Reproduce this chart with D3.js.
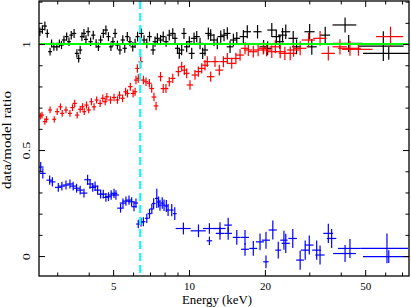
<!DOCTYPE html>
<html>
<head>
<meta charset="utf-8">
<script src="https://cdn.jsdelivr.net/npm/d3@7"></script>
<style>
  body { margin: 0; background: #fff; }
  svg { display: block; }
  svg text { font-family: "Liberation Serif", "Times New Roman", Times, serif; }
</style>
</head>
<body>
<svg id="chart" width="411" height="307"></svg>
<script>
// Axis ticks
const energyTicks = [5, 10, 20, 50];
const energyMinor = [3, 4, 6, 7, 8, 9, 30, 40, 60, 70];
const ratioTicks = [0, 0.5, 1];
const ratioMinor = [0.1, 0.2, 0.3, 0.4, 0.6, 0.7, 0.8, 0.9, 1.1, 1.2];
const lineEnergy = 6.4;
const modelRatio = 1;

// [energy keV, half bin width keV, ratio, ratio error]
const blackData = [
  [2.56, 0.05, 1.058, 0.02], [2.62, 0.05, 1.069, 0.02], [2.68, 0.05, 1.085, 0.021],
  [2.74, 0.05, 1.05, 0.02], [2.81, 0.05, 0.964, 0.018], [2.85, 0.05, 1.003, 0.019],
  [2.91, 0.05, 0.987, 0.019], [2.99, 0.06, 0.987, 0.019], [3.06, 0.06, 1.003, 0.019],
  [3.12, 0.06, 0.995, 0.019], [3.19, 0.06, 1.019, 0.02], [3.27, 0.06, 1.035, 0.02],
  [3.34, 0.06, 1.011, 0.02], [3.41, 0.06, 1.042, 0.02], [3.5, 0.07, 1.05, 0.021],
  [3.59, 0.07, 0.956, 0.019], [3.65, 0.07, 0.932, 0.019], [3.7, 0.07, 0.972, 0.02],
  [3.76, 0.07, 1.035, 0.021], [3.83, 0.07, 1.05, 0.021], [3.9, 0.07, 1.022, 0.02],
  [3.98, 0.08, 1.058, 0.021], [4.07, 0.08, 1.011, 0.02], [4.17, 0.08, 1.042, 0.021],
  [4.28, 0.08, 1.003, 0.02], [4.37, 0.08, 0.987, 0.02], [4.46, 0.09, 1.019, 0.021],
  [4.57, 0.09, 1.05, 0.021], [4.68, 0.09, 1.066, 0.022], [4.79, 0.09, 1.035, 0.021],
  [4.9, 0.09, 0.987, 0.02], [4.99, 0.1, 1.011, 0.021], [5.09, 0.1, 1.05, 0.022],
  [5.2, 0.1, 0.995, 0.021], [5.32, 0.1, 0.972, 0.021], [5.46, 0.11, 1.019, 0.022],
  [5.56, 0.11, 0.98, 0.021], [5.69, 0.11, 1.035, 0.022], [5.83, 0.11, 1.011, 0.022],
  [5.98, 0.12, 0.987, 0.022], [6.11, 0.12, 1.003, 0.022], [6.25, 0.12, 1.035, 0.023],
  [6.47, 0.14, 1.05, 0.023], [6.63, 0.14, 1.019, 0.023], [6.8, 0.15, 1.003, 0.023],
  [6.97, 0.15, 1.035, 0.023], [7.2, 0.16, 0.972, 0.023], [7.33, 0.16, 1.011, 0.024],
  [7.49, 0.17, 1.027, 0.024], [7.71, 0.17, 1.019, 0.024], [7.9, 0.18, 1.035, 0.024],
  [8.11, 0.18, 1.011, 0.024], [8.35, 0.19, 1.042, 0.025], [8.62, 0.2, 1.05, 0.025],
  [8.8, 0.2, 1.027, 0.025], [9.0, 0.21, 0.98, 0.025], [9.15, 0.21, 0.956, 0.025],
  [9.35, 0.22, 0.972, 0.025], [9.55, 0.22, 1.05, 0.026], [9.79, 0.23, 0.987, 0.026],
  [10.03, 0.28, 1.011, 0.026], [10.25, 0.28, 0.956, 0.026], [10.47, 0.3, 1.027, 0.027],
  [10.73, 0.3, 1.035, 0.027], [11.06, 0.32, 1.003, 0.027], [11.33, 0.32, 0.956, 0.027],
  [11.57, 0.33, 0.972, 0.027], [11.93, 0.34, 1.05, 0.028], [12.19, 0.35, 1.042, 0.028],
  [12.56, 0.36, 1.019, 0.028], [12.95, 0.38, 1.003, 0.028], [13.36, 0.4, 1.035, 0.029],
  [13.77, 0.41, 1.042, 0.029], [14.19, 0.43, 1.05, 0.029], [14.55, 0.44, 0.987, 0.029],
  [15.0, 0.46, 1.019, 0.03], [15.47, 0.48, 1.027, 0.03], [16.43, 0.55, 1.035, 0.031],
  [17.03, 0.58, 1.058, 0.031], [18.7, 0.7, 1.058, 0.032], [19.77, 0.75, 0.987, 0.032],
  [20.5, 0.8, 0.98, 0.033], [21.3, 0.85, 1.066, 0.033], [22.2, 0.9, 1.035, 0.033],
  [22.9, 0.9, 1.011, 0.033], [23.5, 0.95, 1.042, 0.034], [24.2, 1.0, 1.058, 0.034],
  [25.9, 1.1, 1.027, 0.035], [26.7, 1.1, 0.987, 0.035], [30.1, 1.4, 1.058, 0.037],
  [30.7, 1.4, 0.987, 0.037], [34.7, 1.6, 1.042, 0.04], [41.6, 4.5, 1.09, 0.035],
  [43.0, 5.8, 1.003, 0.04], [59.0, 12.0, 0.99, 0.07], [62.0, 13.0, 0.956, 0.03]
];

const redData = [
  [2.57, 0.05, 0.66, 0.016], [2.61, 0.05, 0.665, 0.016], [2.68, 0.05, 0.634, 0.015],
  [2.72, 0.05, 0.645, 0.015], [2.81, 0.05, 0.689, 0.016], [2.92, 0.05, 0.645, 0.015],
  [3.0, 0.06, 0.681, 0.016], [3.09, 0.06, 0.704, 0.016], [3.14, 0.06, 0.673, 0.016],
  [3.25, 0.06, 0.689, 0.016], [3.37, 0.06, 0.673, 0.016], [3.45, 0.07, 0.7, 0.016],
  [3.52, 0.07, 0.72, 0.017], [3.6, 0.07, 0.665, 0.016], [3.7, 0.07, 0.692, 0.016],
  [3.78, 0.07, 0.704, 0.017], [3.84, 0.07, 0.681, 0.016], [3.92, 0.08, 0.712, 0.017],
  [4.0, 0.08, 0.689, 0.016], [4.1, 0.08, 0.728, 0.017], [4.2, 0.08, 0.704, 0.017],
  [4.3, 0.08, 0.736, 0.017], [4.44, 0.09, 0.72, 0.017], [4.55, 0.09, 0.744, 0.018],
  [4.65, 0.09, 0.728, 0.017], [4.72, 0.09, 0.751, 0.018], [4.88, 0.1, 0.736, 0.018],
  [5.04, 0.1, 0.748, 0.018], [5.2, 0.1, 0.736, 0.018], [5.3, 0.1, 0.759, 0.018],
  [5.45, 0.11, 0.744, 0.018], [5.6, 0.11, 0.775, 0.019], [5.7, 0.11, 0.767, 0.019],
  [5.85, 0.12, 0.799, 0.019], [6.0, 0.12, 0.767, 0.019], [6.11, 0.12, 0.775, 0.019],
  [6.16, 0.12, 0.83, 0.02], [6.24, 0.12, 0.885, 0.02], [6.29, 0.12, 0.838, 0.02],
  [6.43, 0.13, 0.917, 0.03], [6.59, 0.14, 0.83, 0.02], [6.75, 0.14, 0.822, 0.02],
  [6.96, 0.15, 0.815, 0.02], [7.11, 0.15, 0.79, 0.02], [7.26, 0.16, 0.75, 0.02],
  [7.4, 0.16, 0.708, 0.02], [7.71, 0.17, 0.846, 0.022], [7.9, 0.18, 0.79, 0.021],
  [8.1, 0.18, 0.79, 0.021], [8.35, 0.19, 0.822, 0.022], [8.62, 0.2, 0.838, 0.022],
  [9.07, 0.22, 0.87, 0.023], [9.35, 0.25, 0.893, 0.023], [9.58, 0.25, 0.877, 0.023],
  [9.79, 0.26, 0.862, 0.023], [10.09, 0.3, 0.807, 0.022], [10.56, 0.32, 0.854, 0.023],
  [10.89, 0.34, 0.87, 0.024], [11.23, 0.36, 0.885, 0.024], [11.57, 0.38, 0.9, 0.025],
  [11.82, 0.4, 0.917, 0.025], [12.19, 0.42, 0.846, 0.024], [12.68, 0.45, 0.917, 0.025],
  [13.19, 0.48, 0.877, 0.025], [13.69, 0.5, 0.917, 0.026], [14.19, 0.52, 0.932, 0.026],
  [14.77, 0.55, 0.909, 0.026], [15.34, 0.57, 0.932, 0.027], [15.94, 0.6, 0.948, 0.027],
  [16.68, 0.63, 0.98, 0.028], [17.19, 0.65, 0.972, 0.028], [17.99, 0.7, 0.964, 0.028],
  [18.8, 0.75, 0.972, 0.029], [19.7, 0.8, 0.98, 0.029], [20.3, 0.9, 0.972, 0.03],
  [21.3, 1.0, 0.964, 0.03], [22.0, 1.1, 0.987, 0.031], [23.0, 1.2, 0.964, 0.031],
  [24.0, 1.3, 0.956, 0.031], [25.2, 1.4, 0.956, 0.032], [26.0, 1.5, 0.972, 0.032],
  [27.6, 1.6, 0.98, 0.033], [29.8, 1.8, 1.019, 0.034], [33.1, 2.0, 1.027, 0.035],
  [35.7, 2.2, 0.956, 0.034], [39.7, 2.6, 0.987, 0.036], [43.5, 4.5, 0.98, 0.035],
  [47.0, 6.5, 0.975, 0.03], [63.0, 7.8, 1.035, 0.047]
];

const blueData = [
  [2.58, 0.07, 0.42, 0.024], [2.63, 0.07, 0.39, 0.024], [2.8, 0.08, 0.358, 0.022],
  [2.87, 0.08, 0.35, 0.022], [3.03, 0.09, 0.324, 0.021], [3.13, 0.09, 0.33, 0.021],
  [3.25, 0.1, 0.335, 0.021], [3.37, 0.1, 0.34, 0.021], [3.47, 0.1, 0.33, 0.021],
  [3.58, 0.11, 0.32, 0.021], [3.7, 0.11, 0.311, 0.021], [3.83, 0.12, 0.297, 0.021],
  [3.96, 0.12, 0.36, 0.024], [4.05, 0.12, 0.34, 0.022], [4.15, 0.13, 0.324, 0.021],
  [4.24, 0.13, 0.33, 0.022], [4.34, 0.13, 0.311, 0.021], [4.46, 0.13, 0.292, 0.021],
  [4.57, 0.14, 0.292, 0.021], [4.68, 0.14, 0.277, 0.021], [4.79, 0.14, 0.28, 0.021],
  [4.91, 0.15, 0.288, 0.022], [5.04, 0.15, 0.296, 0.022], [5.13, 0.15, 0.288, 0.022],
  [5.35, 0.16, 0.226, 0.021], [5.47, 0.16, 0.25, 0.022], [5.62, 0.17, 0.259, 0.022],
  [5.78, 0.17, 0.264, 0.022], [5.92, 0.18, 0.256, 0.022], [6.05, 0.14, 0.233, 0.022],
  [6.16, 0.12, 0.25, 0.022], [6.29, 0.12, 0.151, 0.02], [6.45, 0.12, 0.16, 0.021],
  [6.59, 0.12, 0.162, 0.021], [6.8, 0.12, 0.178, 0.022], [6.97, 0.12, 0.2, 0.023],
  [7.12, 0.12, 0.222, 0.024], [7.24, 0.12, 0.248, 0.025], [7.45, 0.12, 0.272, 0.045],
  [7.57, 0.12, 0.255, 0.026], [7.67, 0.12, 0.24, 0.026], [7.83, 0.12, 0.25, 0.027],
  [7.96, 0.12, 0.24, 0.027], [8.13, 0.13, 0.236, 0.028], [8.26, 0.13, 0.217, 0.028],
  [8.54, 0.14, 0.217, 0.029], [8.78, 0.15, 0.2, 0.03], [9.5, 0.65, 0.13, 0.028],
  [10.9, 0.75, 0.119, 0.03], [12.05, 0.7, 0.13, 0.025], [12.05, 0.3, 0.072, 0.02],
  [13.27, 0.7, 0.13, 0.03], [13.27, 0.5, 0.107, 0.03], [14.3, 0.5, 0.146, 0.035],
  [14.3, 0.5, 0.107, 0.03], [15.47, 0.55, 0.088, 0.035], [16.68, 0.6, 0.088, 0.035],
  [16.68, 0.6, 0.032, 0.03], [17.99, 0.65, 0.036, 0.035], [19.13, 0.7, 0.067, 0.04],
  [20.2, 0.75, 0.075, 0.04], [20.2, 0.5, -0.027, 0.03], [21.5, 0.8, 0.123, 0.045],
  [22.6, 0.6, 0.028, 0.04], [23.8, 0.8, 0.075, 0.045], [24.2, 0.9, 0.06, 0.045],
  [25.8, 1.0, 0.083, 0.045], [27.6, 1.0, -0.019, 0.045], [28.9, 1.1, 0.028, 0.045],
  [30.0, 1.2, 0.052, 0.045], [32.1, 1.3, 0.028, 0.045], [33.1, 1.4, 0.005, 0.045],
  [35.7, 1.6, 0.107, 0.045], [36.8, 1.6, 0.083, 0.045], [41.6, 4.3, 0.012, 0.04],
  [43.5, 4.5, 0.036, 0.045], [61.0, 13.0, 0.036, 0.07], [62.0, 13.0, -0.003, 0.03]
];

// Set up SVG
const margin = { top: 1, right: 2, bottom: 31, left: 39 };
const width = 411 - margin.left - margin.right;
const height = 307 - margin.top - margin.bottom;

const svg = d3.select('#chart');
const g = svg
  .append('g')
  .attr('transform', `translate(${margin.left},${margin.top})`);

const x = d3.scaleLog().domain([2.54, 74.6]).range([0, width]);
const y = d3.scaleLinear().domain([-0.094, 1.203]).range([height, 0]);

g.append('defs')
  .append('clipPath')
  .attr('id', 'plot-clip')
  .append('rect')
  .attr('width', width)
  .attr('height', height);

// Draw one data group as error crosses
function drawSeries(data, color) {
  const s = g
    .append('g')
    .attr('clip-path', 'url(#plot-clip)')
    .attr('stroke', color)
    .attr('stroke-width', 1.2);

  s.selectAll('.xerr')
    .data(data)
    .enter()
    .append('line')
    .attr('class', 'xerr')
    .attr('x1', (d) => x(d[0] - d[1]))
    .attr('x2', (d) => x(d[0] + d[1]))
    .attr('y1', (d) => y(d[2]))
    .attr('y2', (d) => y(d[2]));

  s.selectAll('.yerr')
    .data(data)
    .enter()
    .append('line')
    .attr('class', 'yerr')
    .attr('x1', (d) => x(d[0]))
    .attr('x2', (d) => x(d[0]))
    .attr('y1', (d) => y(d[2] - d[3]))
    .attr('y2', (d) => y(d[2] + d[3]));
}

drawSeries(blackData, '#000');
drawSeries(redData, '#ff0000');
drawSeries(blueData, '#0000ff');

// Model line at ratio 1
g.append('line')
  .attr('x1', 0)
  .attr('x2', width)
  .attr('y1', y(modelRatio))
  .attr('y2', y(modelRatio))
  .attr('stroke', '#00ff00')
  .attr('stroke-width', 2);

// Fe line marker
g.append('line')
  .attr('x1', x(lineEnergy))
  .attr('x2', x(lineEnergy))
  .attr('y1', 0)
  .attr('y2', height)
  .attr('stroke', '#00ffff')
  .attr('stroke-width', 2)
  .attr('stroke-dasharray', '8,4');

// Axes, ticks pointing inward
function styleAxis(sel) {
  sel.select('.domain').remove();
  sel.selectAll('line').attr('stroke', '#000').attr('stroke-width', 1);
  sel.attr('font-family', null).attr('font-size', 11);
  sel.selectAll('text').attr('fill', '#000');
}

g.append('g')
  .attr('transform', `translate(0,${height})`)
  .call(d3.axisBottom(x).tickValues(energyTicks).tickSize(-6).tickFormat(d3.format('d')))
  .call(styleAxis)
  .selectAll('text')
  .attr('y', 13.5)
  .attr('dy', 0);

g.append('g')
  .attr('transform', `translate(0,${height})`)
  .call(d3.axisBottom(x).tickValues(energyMinor).tickSize(-3.5).tickFormat(''))
  .call(styleAxis);

g.append('g')
  .call(d3.axisTop(x).tickValues(energyTicks).tickSize(-6).tickFormat(''))
  .call(styleAxis);

g.append('g')
  .call(d3.axisTop(x).tickValues(energyMinor).tickSize(-3.5).tickFormat(''))
  .call(styleAxis);

// y tick labels are rotated and drawn a bit stretched, as in the source plot
g.append('g')
  .call(d3.axisLeft(y).tickValues(ratioTicks).tickSize(-6).tickFormat((d) => String(d)))
  .call(styleAxis)
  .selectAll('text')
  .attr('transform', 'rotate(-90) scale(1.3,1)')
  .attr('x', 0)
  .attr('y', -9)
  .attr('dy', 0)
  .attr('text-anchor', 'middle');

g.append('g')
  .call(d3.axisLeft(y).tickValues(ratioMinor).tickSize(-3.5).tickFormat(''))
  .call(styleAxis);

g.append('g')
  .attr('transform', `translate(${width},0)`)
  .call(d3.axisRight(y).tickValues(ratioTicks).tickSize(-6).tickFormat(''))
  .call(styleAxis);

g.append('g')
  .attr('transform', `translate(${width},0)`)
  .call(d3.axisRight(y).tickValues(ratioMinor).tickSize(-3.5).tickFormat(''))
  .call(styleAxis);

// Frame
g.append('rect')
  .attr('width', width)
  .attr('height', height)
  .attr('fill', 'none')
  .attr('stroke', '#000')
  .attr('stroke-width', 1.3);

// Axis titles
svg.append('text')
  .attr('x', 217)
  .attr('y', 303.5)
  .attr('text-anchor', 'middle')
  .attr('font-size', 12)
  .attr('textLength', 70)
  .attr('lengthAdjust', 'spacingAndGlyphs')
  .text('Energy (keV)');

svg.append('text')
  .attr('transform', 'translate(11,140) rotate(-90) scale(1.25,1)')
  .attr('text-anchor', 'middle')
  .attr('font-size', 12)
  .text('data/model ratio');
</script>
</body>
</html>
